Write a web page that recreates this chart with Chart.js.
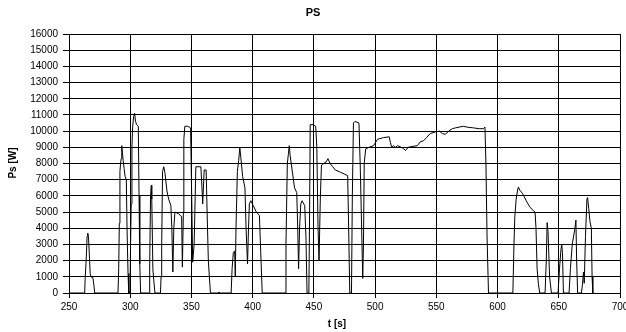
<!DOCTYPE html>
<html>
<head>
<meta charset="utf-8">
<script src="https://cdn.jsdelivr.net/npm/chart.js@4/dist/chart.umd.min.js"></script>
<style>
  html, body { margin: 0; padding: 0; background: #fff; }
  #wrap { width: 626px; height: 332px; }
</style>
</head>
<body>
<div id="wrap"><canvas id="psChart" width="626" height="332"></canvas></div>
<script>
// time axis [s] and power Ps [W]
const times = [
  250, 262.8, 263.2, 264, 264.8, 265.3, 265.9, 266.6, 267.3, 268, 269.5, 270.3, 271,
  290, 290.6, 291.1, 291.6, 292.1, 292.6, 293.1, 293.6, 294.2, 295, 295.8, 296.8, 297.4, 298.2, 298.8,
  299.8, 300.2, 300.8, 301.4, 302, 302.8, 303.6, 304.3, 305.3, 306.6, 307.2, 307.8, 308.5,
  315.5, 315.9, 316.6, 317.2, 317.6, 318.5, 319.2, 320.2,
  324.7, 325.2, 325.7, 326.4, 327.4, 328.4, 330, 331.4, 333.2, 334, 334.8,
  335.6, 336.5, 339.5, 342, 342.6, 343.4, 343.8, 344.6, 347, 349.3, 350.2, 351,
  352.2, 353.6, 357.7, 358.6, 359.2, 360.4, 362, 362.8, 363.8, 365.5,
  371.5, 372.5, 373.5,
  382.4, 383.2, 384.2, 385.3, 385.8, 386.4, 387.5, 388.6, 389.5, 390.3, 391.8, 393.7, 394.6, 395.8,
  396.6, 397.3, 398.5, 400.5, 403, 405.5, 406.6, 407.8,
  426.5, 427.2, 428.3, 429.2, 429.9, 430.6, 432.2, 434.2, 436, 436.8, 437.5,
  438.3, 439.3, 440.4, 442.5, 443.5, 444.4,
  445.9, 446.5, 447, 449.5, 451.5, 452.4, 453.4, 454.2,
  455.3, 456.2, 458, 460, 461.5, 463.2, 465.4, 467.5, 472, 477.6, 478.4, 479.3,
  480.7, 481.4, 482.3, 483.5, 486.8, 487.8, 489, 489.9,
  490.5, 491.1, 492.3, 495, 498.7, 502, 506.9, 511.5, 512.5, 513.5, 515, 516.5, 518.3, 521.5,
  523.5, 524.8, 527, 530, 534.5, 537, 539.5, 542, 545, 549.3, 552.5, 555, 557.4, 560, 563,
  565.6, 572, 575, 580.3, 585, 588.4, 589.7, 590.5, 591.4, 592.6,
  612.5, 613.4, 614.1, 615.2, 616.2, 617, 618.2, 620.4, 623.4, 626.4, 629.1, 630.6, 631.4, 632.3, 633.3, 634.4,
  638.8, 639.8, 640.5, 641.2, 642.5, 644,
  649.4, 650.6, 651.8, 652.4, 653, 653.8,
  658.4, 659.5, 661, 663, 664, 664.6, 665.4,
  668.5, 669.3, 670.2, 670.8, 671.8, 673, 673.5, 674.5, 675.5, 676.6, 677.2, 677.8
];
const power = [
  0, 0, 900, 2000, 3500, 3700, 3500, 2400, 1200, 1000, 950, 500, 0,
  0, 1500, 4300, 7500, 8000, 8300, 9100, 8700, 8200, 7700, 7200, 7000, 4000, 1200, 0,
  0, 2500, 5500, 9000, 10300, 10900, 11100, 10600, 10400, 10300, 6000, 1800, 0,
  0, 1800, 6000, 6650, 5800, 1500, 800, 0,
  0, 1000, 3000, 7500, 7800, 7400, 6300, 5800, 5400, 4000, 1300,
  4000, 5000, 4900, 4700, 1600, 5000, 9500, 10300, 10300, 10200, 6000, 1900,
  3000, 7800, 7800, 6500, 5500, 7600, 7600, 5000, 2000, 0,
  0, 60, 0,
  0, 1500, 2500, 2600, 1000, 4000, 7500, 8200, 9000, 8400, 7200, 6500, 4000, 1800,
  4000, 5500, 5700, 5400, 5000, 4800, 2500, 0,
  0, 3000, 8000, 8600, 9100, 8500, 7600, 6500, 6200, 4000, 1500,
  4000, 5500, 5700, 5400, 3500, 0,
  0, 5000, 10400, 10400, 10300, 9000, 4000, 2000,
  6000, 7900, 8000, 8100, 8300, 8000, 7800, 7600, 7450, 7250, 4000, 0,
  0, 6000, 10500, 10600, 10500, 8000, 4000, 900,
  3000, 8000, 8900, 9000, 9100, 9500, 9600, 9650, 9300, 9000, 9100, 9000, 9100, 9000,
  8900, 8800, 9000, 9050, 9100, 9350, 9400, 9600, 9850, 9950, 10000, 9850, 9800, 10000, 10150,
  10200, 10300, 10250, 10200, 10150, 10150, 10250, 8000, 3600, 0,
  0, 3000, 4700, 5800, 6300, 6550, 6350, 6150, 5700, 5300, 5100, 5000, 4000, 1500, 600, 0,
  0, 2000, 4350, 3800, 1000, 0,
  0, 1500, 2700, 3000, 2500, 0,
  0, 1500, 3000, 3900, 4500, 2000, 0,
  0, 500, 1300, 600, 3500, 5800, 5900, 5200, 4400, 4000, 1000, 0
];

const points = times.map((t, i) => ({ x: t, y: power[i] }));

// titles drawn by hand so they sit where the original has them
const titlesPlugin = {
  id: 'titles',
  afterDraw(chart) {
    const c = chart.ctx;
    c.save();
    c.fillStyle = '#000';
    c.textAlign = 'center';
    c.textBaseline = 'middle';
    c.font = 'bold 11px "Liberation Sans", Arial, sans-serif';
    c.fillText('PS', 313, 13);
    c.font = 'bold 10px "Liberation Sans", Arial, sans-serif';
    c.fillText('t [s]', 337, 324);
    c.translate(13, 163);
    c.rotate(-Math.PI / 2);
    c.fillText('Ps [W]', 0, 0);
    c.restore();
  }
};

const ctx = document.getElementById('psChart').getContext('2d');
const psChart = new Chart(ctx, {
  type: 'scatter',
  data: {
    datasets: [{
      label: 'Ps',
      data: points,
      showLine: true,
      borderColor: '#000',
      borderWidth: 1,
      pointRadius: 0,
      tension: 0
    }]
  },
  options: {
    responsive: false,
    animation: false,
    layout: { padding: { top: 34, right: 6, left: 0, bottom: 0 } },
    plugins: {
      legend: { display: false },
      tooltip: { enabled: false }
    },
    scales: {
      x: {
        type: 'linear',
        min: 250,
        max: 700,
        ticks: {
          stepSize: 50,
          color: '#000',
          padding: 3,
          maxRotation: 0,
          font: { family: '"Liberation Sans", Arial, sans-serif', size: 10 },
          callback: v => v
        },
        grid: { color: '#000', lineWidth: 1, tickLength: 5 },
        border: { color: '#000', width: 1 },
        afterFit(scale) {
          scale.height = 39;
          scale.paddingLeft = 0;
          scale.paddingRight = 0;
        }
      },
      y: {
        min: 0,
        max: 16000,
        ticks: {
          stepSize: 1000,
          color: '#000',
          padding: 5,
          font: { family: '"Liberation Sans", Arial, sans-serif', size: 10 },
          callback: v => v
        },
        grid: { color: '#000', lineWidth: 1, tickLength: 6 },
        border: { color: '#000', width: 1 },
        afterFit(scale) {
          scale.width = 69;
          scale.paddingTop = 0;
          scale.paddingBottom = 0;
        }
      }
    }
  },
  plugins: [titlesPlugin]
});
</script>
</body>
</html>
